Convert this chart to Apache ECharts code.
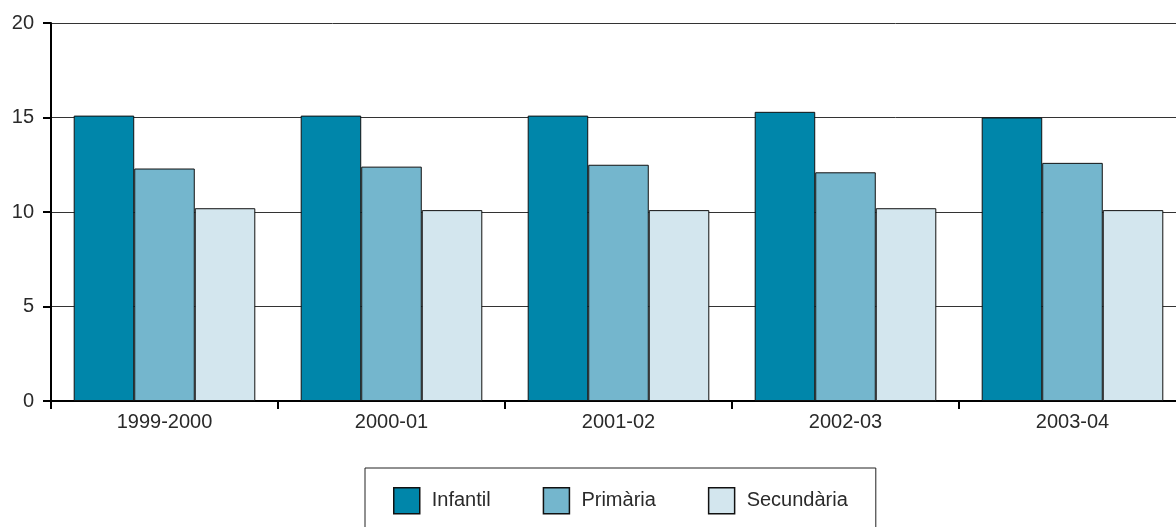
<!DOCTYPE html>
<html>
<head>
<meta charset="utf-8">
<script src="https://cdn.jsdelivr.net/npm/echarts@6/dist/echarts.min.js"></script>
<style>html,body{margin:0;padding:0;background:#fff}#c{width:1176px;height:527px}</style>
</head>
<body>
<div id="c"></div>
<script>
const categories = ['1999-2000', '2000-01', '2001-02', '2002-03', '2003-04'];
const infantil = [15.1, 15.1, 15.1, 15.3, 15.0];
const primaria = [12.3, 12.4, 12.5, 12.1, 12.6];
const secundaria = [10.2, 10.1, 10.1, 10.2, 10.1];
const yTicks = [0, 5, 10, 15, 20];

const font = 'Liberation Sans, Helvetica, Arial, sans-serif';
const chart = echarts.init(document.getElementById('c'), null, {renderer: 'canvas'});
function bar(name, data, color) {
  return {
    name, type: 'bar', data, barGap: '0%', barCategoryGap: '20%',
    itemStyle: {color, borderColor: '#111', borderWidth: 1},
    emphasis: {disabled: true}
  };
}
chart.setOption({
  animation: false,
  textStyle: {fontFamily: font},
  grid: {left: 51, top: 23, height: 378, width: 1135, containLabel: false, outerBoundsMode: 'none'},
  xAxis: {
    type: 'category', data: categories,
    axisLine: {lineStyle: {color: '#000', width: 2}},
    axisTick: {show: true, length: 8, lineStyle: {color: '#000', width: 2}, alignWithLabel: false},
    axisLabel: {color: '#2a2a2a', fontSize: 20, margin: 11, fontFamily: font}
  },
  yAxis: {
    type: 'value', min: yTicks[0], max: yTicks[yTicks.length - 1], interval: 5,
    axisLine: {show: true, lineStyle: {color: '#000', width: 2}},
    axisTick: {show: true, length: 8, lineStyle: {color: '#000', width: 2}},
    axisLabel: {color: '#2a2a2a', fontSize: 20, margin: 17, fontFamily: font},
    splitLine: {show: true, lineStyle: {color: '#333', width: 1}}
  },
  legend: {
    data: ['Infantil', 'Primària', 'Secundària'],
    left: 365, top: 468,
    orient: 'horizontal',
    padding: [19, 28, 30, 28],
    itemWidth: 26, itemHeight: 26, itemGap: 52,
    borderColor: '#222', borderWidth: 1,
    icon: 'rect',
    itemStyle: {borderColor: '#111', borderWidth: 1.5},
    textStyle: {color: '#2a2a2a', fontSize: 20, fontFamily: font, padding: [0, 0, 0, 7]}
  },
  series: [
    bar('Infantil', infantil, '#0086AA'),
    bar('Primària', primaria, '#74B6CD'),
    bar('Secundària', secundaria, '#D3E6EE')
  ]
});
</script>
</body>
</html>
